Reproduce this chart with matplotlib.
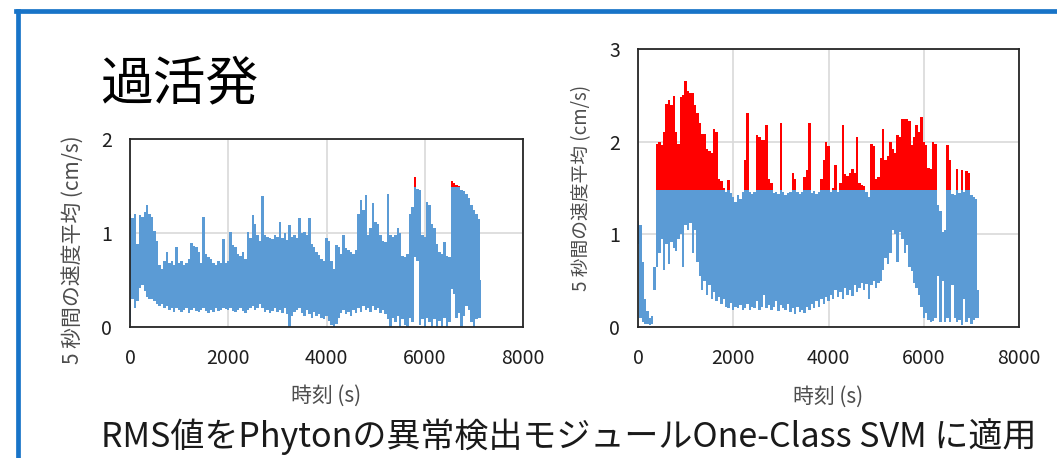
import numpy as np
import matplotlib as mpl
mpl.use('Agg')
import matplotlib.pyplot as plt
from matplotlib.lines import Line2D

plt.rcParams['font.family'] = ['Noto Sans CJK JP', 'DejaVu Sans']

#time axis of both records (s), one sample every 50 s
t_left = np.arange(0, 7200, 50)
t_right = np.arange(0, 7200, 50)

#left chart: upper / lower edge of the 5 s speed mean (cm/s)
left_upper = [1.20, 1.16, 1.20, 0.88, 1.19, 1.17, 1.22, 1.30, 1.20, 1.17,
              1.02, 0.92, 0.66, 0.62, 0.70, 0.80, 0.68, 0.70, 0.66, 0.85,
              0.68, 0.70, 0.66, 0.68, 0.72, 0.89, 0.86, 0.85, 0.80, 0.68,
              1.17, 0.78, 0.75, 0.72, 0.68, 0.66, 0.70, 0.68, 0.94, 0.68,
              0.70, 1.01, 0.87, 0.85, 0.78, 0.76, 0.80, 0.72, 1.01, 0.95,
              1.19, 1.10, 0.98, 0.92, 1.39, 0.98, 0.96, 0.95, 0.94, 0.98,
              0.96, 1.12, 0.95, 1.00, 0.93, 1.09, 0.96, 0.98, 0.95, 1.16,
              1.00, 1.01, 0.98, 1.16, 0.88, 0.85, 0.80, 0.77, 0.72, 0.70,
              0.95, 0.92, 0.70, 0.62, 0.87, 0.85, 0.78, 0.98, 0.84, 0.82,
              0.80, 0.78, 0.82, 1.20, 1.35, 1.25, 1.40, 0.98, 1.05, 1.32,
              1.12, 1.10, 0.98, 0.92, 0.90, 1.42, 0.98, 0.96, 0.98, 1.05,
              1.00, 0.76, 0.74, 0.78, 1.20, 1.28, 1.60, 1.47, 1.46, 0.98,
              0.96, 1.33, 1.30, 1.10, 1.05, 0.88, 0.80, 0.78, 0.90, 0.76,
              0.75, 1.55, 1.53, 1.51, 1.50, 1.46, 1.45, 1.42, 1.37, 1.30,
              1.25, 1.20, 1.15, 0.50]
left_lower = [0.05, 0.30, 0.20, 0.28, 0.42, 0.45, 0.38, 0.32, 0.30, 0.30,
              0.28, 0.25, 0.22, 0.24, 0.20, 0.22, 0.18, 0.20, 0.16, 0.20,
              0.18, 0.16, 0.18, 0.20, 0.15, 0.18, 0.20, 0.17, 0.16, 0.18,
              0.20, 0.17, 0.15, 0.18, 0.16, 0.20, 0.17, 0.18, 0.20, 0.19,
              0.18, 0.20, 0.17, 0.16, 0.18, 0.20, 0.17, 0.15, 0.18, 0.20,
              0.22, 0.18, 0.20, 0.24, 0.20, 0.16, 0.18, 0.15, 0.17, 0.20,
              0.16, 0.18, 0.15, 0.20, 0.14, 0.00, 0.12, 0.16, 0.18, 0.20,
              0.15, 0.12, 0.18, 0.14, 0.10, 0.16, 0.12, 0.14, 0.10, 0.08,
              0.12, 0.06, 0.02, 0.00, 0.03, 0.10, 0.15, 0.18, 0.14, 0.16,
              0.12, 0.18, 0.15, 0.20, 0.16, 0.22, 0.18, 0.20, 0.16, 0.22,
              0.18, 0.20, 0.15, 0.18, 0.14, 0.08, 0.00, 0.10, 0.05, 0.12,
              0.00, 0.08, 0.02, 0.00, 0.10, 0.05, 0.75, 0.70, 0.02, 0.08,
              0.00, 0.10, 0.05, 0.00, 0.08, 0.00, 0.06, 0.00, 0.10, 0.00,
              0.05, 0.40, 0.35, 0.10, 0.15, 0.00, 0.12, 0.22, 0.18, 0.05,
              0.00, 0.08, 0.10, 0.10]
left_thr = 1.49

#right chart
right_upper = [1.14, 1.10, 0.70, 0.30, 0.17, 0.10, 0.12, 0.65, 1.98, 2.00,
               1.96, 2.10, 2.41, 2.45, 2.40, 2.49, 2.10, 1.97, 2.48, 2.50,
               2.65, 2.55, 2.52, 2.52, 2.40, 2.31, 2.20, 2.08, 2.08, 1.92,
               1.90, 1.88, 2.14, 2.10, 1.60, 1.58, 1.50, 1.46, 1.59, 1.45,
               1.40, 1.35, 1.42, 1.38, 1.46, 1.80, 2.31, 1.46, 1.44, 1.46,
               2.07, 2.05, 2.02, 2.02, 2.18, 1.60, 1.55, 1.45, 1.46, 1.44,
               2.20, 1.46, 1.42, 1.45, 1.46, 1.66, 1.60, 1.46, 1.44, 1.46,
               1.62, 1.69, 2.20, 1.45, 1.47, 1.43, 1.46, 1.60, 1.80, 2.00,
               1.95, 1.46, 1.50, 1.75, 1.46, 1.55, 2.18, 1.65, 1.63, 1.66,
               1.70, 1.66, 2.05, 1.55, 1.53, 1.52, 1.46, 1.40, 1.98, 1.95,
               1.60, 1.62, 1.82, 2.14, 1.80, 1.85, 2.00, 1.92, 1.88, 2.07,
               2.05, 2.25, 2.24, 2.25, 2.22, 1.96, 2.05, 2.18, 2.10, 2.27,
               2.00, 1.96, 1.72, 1.70, 2.00, 1.98, 1.32, 1.25, 1.03, 1.05,
               1.96, 1.80, 1.44, 1.42, 1.71, 1.45, 1.69, 1.46, 1.68, 1.66,
               1.42, 1.40, 1.38, 0.40]
right_lower = [0.90, 0.10, 0.05, 0.03, 0.03, 0.02, 0.03, 0.40, 0.65, 0.80,
               0.95, 0.62, 0.90, 0.68, 0.92, 0.85, 0.82, 0.95, 1.00, 0.65,
               1.10, 1.05, 1.12, 0.80, 1.05, 0.70, 0.55, 0.40, 0.50, 0.35,
               0.45, 0.30, 0.38, 0.28, 0.32, 0.25, 0.30, 0.22, 0.20, 0.26,
               0.18, 0.22, 0.20, 0.24, 0.18, 0.20, 0.25, 0.18, 0.22, 0.20,
               0.28, 0.18, 0.22, 0.35, 0.20, 0.24, 0.18, 0.22, 0.28, 0.17,
               0.24, 0.20, 0.18, 0.25, 0.16, 0.20, 0.14, 0.22, 0.16, 0.18,
               0.15, 0.22, 0.18, 0.25, 0.20, 0.28, 0.22, 0.30, 0.25, 0.32,
               0.28, 0.35, 0.30, 0.40, 0.32, 0.38, 0.30, 0.42, 0.35, 0.40,
               0.33, 0.45, 0.38, 0.42, 0.48, 0.40, 0.46, 0.30, 0.45, 0.50,
               0.42, 0.48, 0.50, 0.62, 0.75, 0.68, 0.80, 1.05, 1.00, 0.70,
               1.02, 0.95, 0.80, 0.88, 0.65, 0.60, 0.48, 0.42, 0.35, 0.22,
               0.10, 0.15, 0.08, 0.05, 0.06, 0.10, 0.55, 0.05, 0.50, 0.05,
               0.10, 0.05, 0.45, 0.10, 0.05, 0.08, 0.02, 0.30, 0.05, 0.10,
               0.03, 0.08, 0.10, 0.10]
right_thr = 1.48

x_ticks = [0, 2000, 4000, 6000, 8000]
left_yticks = [0, 1, 2]
right_yticks = [0, 1, 2, 3]

title = '過活発'
xlab = '時刻 (s)'
ylab = '5 秒間の速度平均 (cm/s)'
note = 'RMS値をPhytonの異常検出モジュールOne-Class SVM に適用'

blue = '#5B9BD5'
red = '#FF0000'

fig = plt.figure(figsize=(10.57, 4.58), dpi=100)

def draw_panel(ax, t, upper, lower, thr, yticks, ylab_pos, xlab_y, ylab_size):
    upper = np.array(upper)
    lower = np.array(lower)
    #blue part up to the threshold, red part (anomaly) above it
    ax.fill_between(t, lower, np.minimum(upper, thr), step='mid', color=blue, lw=0)
    ax.fill_between(t, thr, np.maximum(upper, thr), step='mid', color=red, lw=0)
    ax.set_xlim(0, 8000)
    ax.set_ylim(0, yticks[-1])
    ax.set_xticks(x_ticks)
    ax.set_yticks(yticks)
    ax.grid(color='#D9D9D9', lw=1.2)
    ax.set_axisbelow(True)
    for s in ax.spines.values():
        s.set_color('#262626')
        s.set_linewidth(1.3)
    ax.tick_params(length=0, labelsize=14, labelcolor='#1f1f1f')
    ax.tick_params(axis='x', pad=15)
    ax.tick_params(axis='y', pad=13)
    ax.set_xlabel(xlab, fontsize=15, color='#4d4d4d')
    ax.set_ylabel(ylab, fontsize=ylab_size, color='#4d4d4d')
    ax.xaxis.set_label_coords(0.5, xlab_y)
    ax.yaxis.set_label_coords(ylab_pos[0], ylab_pos[1])

ax1 = fig.add_axes([130/1057, 1-327/458, 393/1057, 188/458])
draw_panel(ax1, t_left, left_upper, left_lower, left_thr, left_yticks, (-0.118, 0.41), -0.31, 15)

ax2 = fig.add_axes([638/1057, 1-327/458, 381/1057, 278/458])
draw_panel(ax2, t_right, right_upper, right_lower, right_thr, right_yticks, (-0.12, 0.5), -0.21, 13.5)

#slide frame (only the top and left edge are visible)
fig.add_artist(Line2D([18/1057, 18/1057], [0, 1-11/458], transform=fig.transFigure, color='#1874C8', lw=3.4))
fig.add_artist(Line2D([16.3/1057, 1], [1-11/458, 1-11/458], transform=fig.transFigure, color='#1874C8', lw=3.4))

fig.text(100/1057, 1-84/458, title, fontsize=38, color='black', va='center', ha='left')
fig.text(101/1057, 1-437/458, note, fontsize=24.5, color='#1a1a1a', va='center', ha='left')

fig.savefig('out.png', dpi=100)
